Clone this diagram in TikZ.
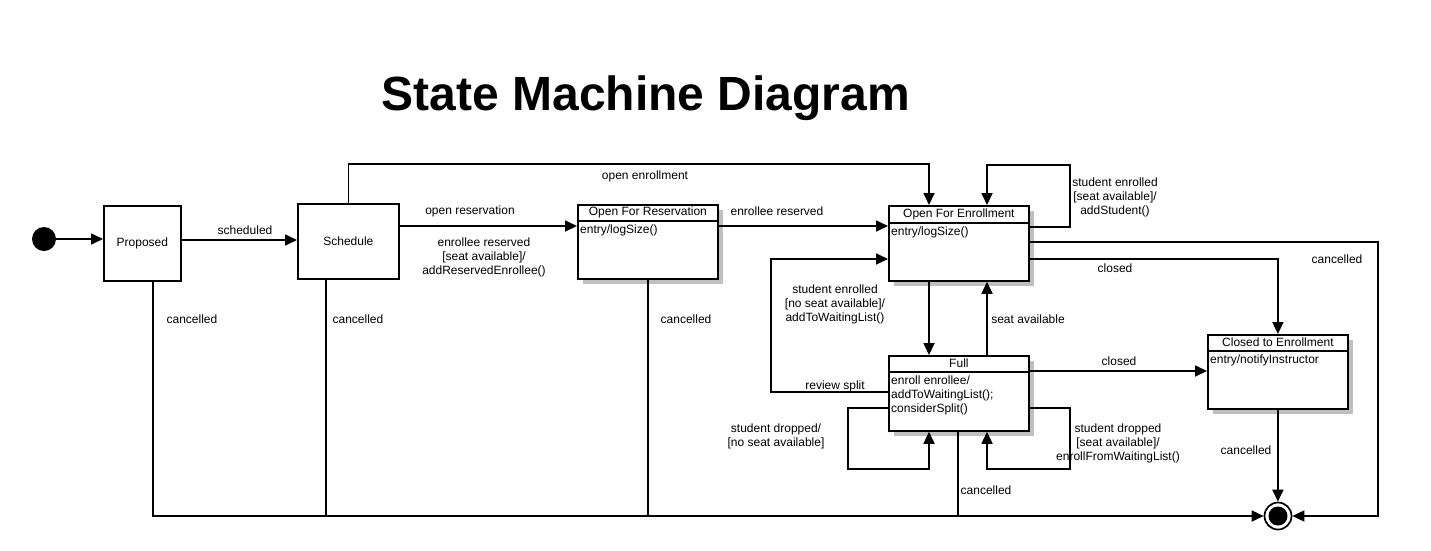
\documentclass[tikz,border=0pt]{standalone}
\usepackage{fontspec}
\setmainfont{Liberation Sans}
\usetikzlibrary{arrows.meta,calc,shadows}
\begin{document}
\begin{tikzpicture}[x=1pt,y=-1pt,
  lbl/.style={font=\fontsize{12}{14}\selectfont, inner sep=0pt, align=center},
  body/.style={font=\fontsize{12}{14}\selectfont, inner sep=0pt, align=left, anchor=north west},
  conn/.style={line width=1.7pt,-{Triangle[length=12pt,width=11pt]}},
  plainline/.style={line width=1.5pt},
  simple/.style={draw, line width=1.7pt, fill=white, anchor=north west, inner sep=0pt, font=\fontsize{12}{14}\selectfont},
  comp/.style={draw, line width=1.8pt, fill=white, minimum width=140pt, anchor=north west, inner sep=0pt,
    drop shadow={shadow xshift=5pt, shadow yshift=-5pt, opacity=1, fill=black!25}},
  hdr/.style={font=\fontsize{12}{14}\selectfont, inner sep=0pt}
]
\useasboundingbox (0,0) rectangle (1431,550);

\node[font=\bfseries\fontsize{48}{56}\selectfont] (title) at (646,98) {State Machine Diagram};

% states
\node[circle, fill=black, minimum size=24pt, inner sep=0pt] (init) at (44,239) {};
\node[simple, minimum width=77pt, minimum height=75pt] (prop) at (103,205) {Proposed};
\node[simple, minimum width=101pt, minimum height=75pt] (sched) at (297,203) {Schedule};

\node[comp, minimum height=74pt] (ofr) at (577,204) {};
\draw[line width=1.8pt] ([yshift=-17pt]ofr.north west) -- ([yshift=-17pt]ofr.north east);
\node[hdr] (ofrT) at ($(ofr.north)+(0,8.5)$) {Open For Reservation};
\node[body] (ofrB) at ($(ofr.north west)+(3,21)$) {entry/logSize()};

\node[comp, minimum height=75pt] (ofe) at (888,205) {};
\draw[line width=1.8pt] ([yshift=-18pt]ofe.north west) -- ([yshift=-18pt]ofe.north east);
\node[hdr] (ofeT) at ($(ofe.north)+(0,9)$) {Open For Enrollment};
\node[body] (ofeB) at ($(ofe.north west)+(3,22)$) {entry/logSize()};

\node[comp, minimum height=75pt] (full) at (888,355) {};
\draw[line width=1.8pt] ([yshift=-17pt]full.north west) -- ([yshift=-17pt]full.north east);
\node[hdr] (fullT) at ($(full.north)+(0,8.5)$) {Full};
\node[body] (fullB) at ($(full.north west)+(3,21)$) {enroll enrollee/\\addToWaitingList();\\considerSplit()};

\node[comp, minimum height=74pt] (cte) at (1207,334) {};
\draw[line width=1.8pt] ([yshift=-17pt]cte.north west) -- ([yshift=-17pt]cte.north east);
\node[hdr] (cteT) at ($(cte.north)+(0,8.5)$) {Closed to Enrollment};
\node[body] (cteB) at ($(cte.north west)+(3,21)$) {entry/notifyInstructor};

\node[circle, draw, line width=1.7pt, fill=white, minimum size=27pt, inner sep=0pt] (fin) at (1278,516) {};
\node[circle, fill=black, minimum size=19pt, inner sep=0pt] (finI) at (fin) {};

% connectors
\draw[conn] (init.east) -- (init.east -| prop.west);
\draw[conn] (prop.east |- 0,240) -- (sched.west |- 0,240);
\draw[conn] (sched.north) -- ++(0,-39) -| ([xshift=41pt]ofe.north west);
\coordinate (ofrIn) at ([yshift=-22pt]ofr.north west);
\draw[conn] (ofrIn -| sched.east) -- (ofrIn);
\draw[conn] (ofrIn -| ofr.east) -- (ofrIn -| ofe.west);
\draw[conn] ([yshift=-22pt]ofe.north east) -- ++(40,0) -- ++(0,-62) -| ([xshift=99pt]ofe.north west);
\draw[conn] ([yshift=-37pt]ofe.north east) -- ++(348,0) |- (fin.east);
\draw[conn] ([yshift=-54pt]ofe.north east) -| (cte.north);
\draw[conn] ([xshift=41pt]ofe.south west) -- ([xshift=41pt]full.north west);
\draw[conn] ([xshift=99pt]full.north west) -- ([xshift=99pt]ofe.south west);
\draw[conn] ([yshift=-37pt]full.north west) -- ++(-117,0) |- ([yshift=-54pt]ofe.north west);
\draw[conn] ([yshift=-53pt]full.north west) -- ++(-40,0) -- ++(0,61) -| ([xshift=41pt]full.south west);
\draw[conn] ([yshift=-53pt]full.north east) -- ++(40,0) -- ++(0,61) -| ([xshift=99pt]full.south west);
\draw[conn] ([yshift=-16pt]full.north east) -- ([yshift=-16pt]full.north east -| cte.west);
\draw[conn] (cte.south) -- (cte.south |- fin.north);
\draw[plainline] ([xshift=70pt]full.south west) -- ([xshift=70pt]full.south west |- fin.west);
\draw[plainline] ([xshift=29pt]sched.south west) -- ([xshift=29pt]sched.south west |- fin.west);
\draw[plainline] (ofr.south) -- (ofr.south |- fin.west);
\draw[conn] ([xshift=50pt]prop.south west) |- (fin.west);

% labels
\node[lbl] (l1) at (245,230) {scheduled};
\node[lbl] (l2) at (645,176) {open enrollment};
\node[lbl] (l3) at (470,211) {open reservation};
\node[lbl] (l4) at (484,257) {enrollee reserved\\{[}seat available{]}/\\addReservedEnrollee()};
\node[lbl] (l5) at (777,211) {enrollee reserved};
\node[lbl] (l6) at (1115,197) {student enrolled\\{[}seat available{]}/\\addStudent()};
\node[lbl] (l7) at (1337,259) {cancelled};
\node[lbl] (l8) at (1115,268) {closed};
\node[lbl] (l9) at (835,304) {student enrolled\\{[}no seat available{]}/\\addToWaitingList()};
\node[lbl] (l10) at (1028,319) {seat available};
\node[lbl] (l11) at (835,386) {review split};
\node[lbl] (l12) at (1119,361) {closed};
\node[lbl] (l13) at (776,436) {student dropped/\\{[}no seat available{]}};
\node[lbl] (l14) at (1118,443) {student dropped\\{[}seat available{]}/\\enrollFromWaitingList()};
\node[lbl] (l15) at (986,490) {cancelled};
\node[lbl] (l16) at (1246,450) {cancelled};
\node[lbl] (l17) at (192,319) {cancelled};
\node[lbl] (l18) at (358,319) {cancelled};
\node[lbl] (l19) at (686,319) {cancelled};
\end{tikzpicture}
\end{document}
